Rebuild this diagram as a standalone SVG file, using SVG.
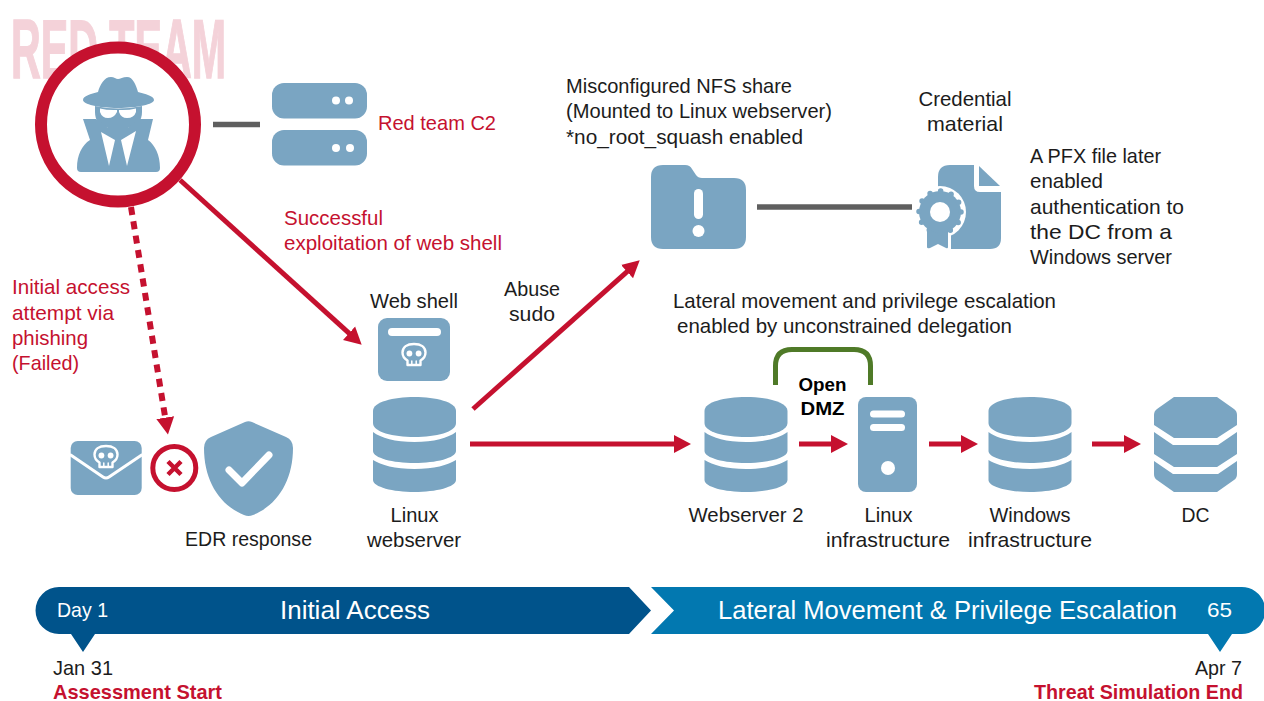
<svg xmlns="http://www.w3.org/2000/svg" width="1264" height="701" viewBox="0 0 1264 701">
<style>
text{font-family:"Liberation Sans",Arial,sans-serif;font-size:21px;fill:#1c1c1c}
.r{fill:#c5112f}
.m{text-anchor:middle}
.e{text-anchor:end}
.w{fill:#fff}
.b{font-weight:bold}
.i{fill:#7aa5c2}
.wl{fill:none;stroke:#fff;stroke-linecap:round;stroke-linejoin:round}
.a{fill:none;stroke:#c5112f;stroke-width:5}
.g{fill:none;stroke:#5f5f5f;stroke-width:5.5}
</style>
<defs>
<marker id="ah" markerUnits="userSpaceOnUse" markerWidth="18" markerHeight="20" viewBox="0 0 18 20" refX="8" refY="10" orient="auto"><path d="M0,1 L17,10 L0,19 Z" fill="#c5112f"/></marker>
<g id="db" class="i">
<path d="M0,14 C0,5 20,0 41.5,0 C63,0 83,5 83,14 V26 C83,35 63,40 41.5,40 C20,40 0,35 0,26 Z"/>
<path d="M0,35 C8,41 22,45 41.5,45 C61,45 75,41 83,35 V54 C83,61 63,66 41.5,66 C20,66 0,61 0,54 Z"/>
<path d="M0,63 C8,68 22,72 41.5,72 C61,72 75,68 83,63 V83 C83,90 63,95 41.5,95 C20,95 0,90 0,83 Z"/>
</g>
<g id="skull">
<path class="wl" stroke-width="2.4" d="M-6.5,10 V5.5 C-10,3.5 -11.5,0 -11.5,-2.5 C-11.5,-8 -7,-11 0,-11 C7,-11 11.5,-8 11.5,-2.5 C11.5,0 10,3.5 6.5,5.5 V10 Z"/>
<circle cx="-4.6" cy="-1.5" r="2.9" fill="#fff"/><circle cx="4.6" cy="-1.5" r="2.9" fill="#fff"/>
<path class="wl" stroke-width="1.5" d="M-2.2,6 V9.5 M2.2,6 V9.5"/>
</g>
</defs>
<rect width="1264" height="701" fill="#fff"/>
<text id="watermark" x="11" y="77.500" textLength="215" lengthAdjust="spacingAndGlyphs" class="b" style="font-size:84px;fill:#f4d2d9;stroke:#f4d2d9;stroke-width:1.500">RED TEAM</text>

<g id="connectors">
<path class="g" d="M213,124.500 H260"/>
<path class="g" d="M757,207 H912"/>
<path class="a" d="M180,180 L355,338.600" marker-end="url(#ah)"/>
<path class="a" style="stroke-width:6;stroke-dasharray:8 6.500" d="M131,207 L166.500,425.500" marker-end="url(#ah)"/>
<path class="a" d="M473,409 L633,266.300" marker-end="url(#ah)"/>
<path class="a" d="M470,444 H682" marker-end="url(#ah)"/>
<path class="a" d="M799,444 H839" marker-end="url(#ah)"/>
<path class="a" d="M929,444 H969" marker-end="url(#ah)"/>
<path class="a" d="M1092,444 H1132" marker-end="url(#ah)"/>
<path fill="none" stroke="#4f7a28" stroke-width="5" d="M775.500,385 V366 Q775.500,349.500 792,349.500 H854 Q870.500,349.500 870.500,366 V385"/>
</g>

<g id="red-team-actor">
<circle cx="118" cy="124.500" r="77" fill="#fff" stroke="#c5112f" stroke-width="12"/>
<path class="i" d="M83,100 C83,96 91,94 98,92 C100,85 104,77 111,77 C114,77 116,79 118,79 C120,79 123,77 127,77 C133,77 136,85 138,92 C145,94 154,96 154,100 C154,104 138,108 118,108 C98,108 83,104 83,100 Z"/>
<path class="i" d="M95,106 Q118,111 142,106 V112 Q142,125 128,128 H108 Q95,125 95,112 Z"/>
<path class="i" d="M83,119 H96 L108,128 H128 L140,119 H153 L148,140 C155,145 160,155 160,168 Q160,172 156,172 H81 Q77,172 77,168 C77,155 82,145 90,140 Z"/>
<path d="M100,108.500 Q108,110.500 117,110 V112 Q114,118 108,118 Q102,118 100,112 Z M119,110 Q128,110.500 136,108.500 V112 Q134,118 127,118 Q121,118 119,112 Z" fill="#fff"/>
<path d="M101,132 L115,140 L109,166 Z M136,131 L121,140 L127,166 Z" fill="#fff"/>
</g>

<g id="red-team-c2">
<rect class="i" x="272" y="83" width="95" height="35.500" rx="12"/>
<rect class="i" x="272" y="130" width="95" height="35.500" rx="12"/>
<g fill="#fff"><circle cx="336" cy="100.500" r="4"/><circle cx="349" cy="100.500" r="4"/><circle cx="336" cy="148" r="4"/><circle cx="350" cy="148" r="4"/></g>
<text class="r" x="378" y="130" textLength="118" lengthAdjust="spacingAndGlyphs">Red team C2</text>
</g>

<text class="r" x="284" y="225" textLength="99" lengthAdjust="spacingAndGlyphs">Successful</text>
<text class="r" x="284" y="250" textLength="218" lengthAdjust="spacingAndGlyphs">exploitation of web shell</text>
<text class="r" x="12" y="294" textLength="118" lengthAdjust="spacingAndGlyphs">Initial access</text>
<text class="r" x="12" y="320" textLength="102" lengthAdjust="spacingAndGlyphs">attempt via</text>
<text class="r" x="12" y="345" textLength="76" lengthAdjust="spacingAndGlyphs">phishing</text>
<text class="r" x="12" y="370" textLength="67" lengthAdjust="spacingAndGlyphs">(Failed)</text>

<g id="phishing-mail">
<rect class="i" x="70.700" y="441" width="71" height="54" rx="7"/>
<path class="wl" stroke-width="3" d="M70.700,455 L103,477 Q106,479 109,477 L141.700,455"/>
<use href="#skull" x="106" y="457"/>
</g>
<g id="blocked">
<circle cx="174.300" cy="468" r="21.500" fill="#fff" stroke="#c5112f" stroke-width="5"/>
<path d="M168,461.500 L181,474.500 M181,461.500 L168,474.500" fill="none" stroke="#c5112f" stroke-width="4.500"/>
</g>
<g id="edr-response">
<path class="i" d="M245,422 Q248.500,420.500 252,422 L286,437 Q293,440 293,448 C293,480 278,505 253,515 Q248.500,517 244,515 C219,505 204,480 204,448 Q204,440 211,437 Z"/>
<path class="wl" stroke-width="7" d="M229,470 L242,483 L269,455"/>
<text x="185" y="546" textLength="127" lengthAdjust="spacingAndGlyphs">EDR response</text>
</g>

<g id="web-shell">
<text class="m" x="414" y="308" textLength="88" lengthAdjust="spacingAndGlyphs">Web shell</text>
<rect class="i" x="378" y="318" width="72" height="63" rx="9"/>
<rect x="388" y="328" width="53" height="8" rx="4" fill="#fff"/>
<use href="#skull" x="414" y="355"/>
</g>
<g id="linux-webserver">
<use href="#db" x="373" y="397"/>
<text class="m" x="414.500" y="522" textLength="48" lengthAdjust="spacingAndGlyphs">Linux</text>
<text class="m" x="414" y="547" textLength="94" lengthAdjust="spacingAndGlyphs">webserver</text>
</g>
<text class="m" x="532" y="296" textLength="56" lengthAdjust="spacingAndGlyphs">Abuse</text>
<text class="m" x="532" y="321" textLength="46" lengthAdjust="spacingAndGlyphs">sudo</text>

<g id="nfs-share">
<text x="566" y="93" textLength="226" lengthAdjust="spacingAndGlyphs">Misconfigured NFS share</text>
<text x="566" y="118" textLength="266" lengthAdjust="spacingAndGlyphs">(Mounted to Linux webserver)</text>
<text x="566" y="144" textLength="237" lengthAdjust="spacingAndGlyphs">*no_root_squash enabled</text>
<path class="i" d="M651,177 Q651,165 663,165 H685 Q690,165 692,169 L696,175 Q698,178 702,178 H734 Q746,178 746,190 V237 Q746,249 734,249 H663 Q651,249 651,237 Z"/>
<rect x="694" y="189" width="9" height="30" rx="4.500" fill="#fff"/>
<circle cx="698.500" cy="231" r="6" fill="#fff"/>
</g>
<g id="credential-material">
<text class="m" x="965" y="106" textLength="93" lengthAdjust="spacingAndGlyphs">Credential</text>
<text class="m" x="965" y="131" textLength="76" lengthAdjust="spacingAndGlyphs">material</text>
<path class="i" d="M938,177 Q938,165 950,165 H974 V186 Q974,192 980,192 H1001 V238 Q1001,249 990,249 H949 Q938,249 938,238 Z"/>
<path class="i" d="M979,166 L1000,186 H979 Z"/>
<circle cx="940" cy="212" r="26" fill="#fff"/>
<path d="M921,228 H951 V251 H921 Z" fill="#fff"/>
<path class="i" d="M927,228 H948 V247 Q948,249 946,248 L938,244 L930,248 Q927,249 927,247 Z"/>
<circle class="i" cx="940" cy="212" r="21"/>
<circle cx="940" cy="212" r="21" fill="none" stroke="#7aa5c2" stroke-width="5.500" stroke-linecap="round" stroke-dasharray="0 11"/>
<circle cx="940" cy="212" r="10" fill="#fff"/>
</g>
<text x="1030" y="163" textLength="131" lengthAdjust="spacingAndGlyphs">A PFX file later</text>
<text x="1030" y="188" textLength="73" lengthAdjust="spacingAndGlyphs">enabled</text>
<text x="1030" y="214" textLength="154" lengthAdjust="spacingAndGlyphs">authentication to</text>
<text x="1030" y="239" textLength="142" lengthAdjust="spacingAndGlyphs">the DC from a</text>
<text x="1030" y="264" textLength="142" lengthAdjust="spacingAndGlyphs">Windows server</text>
<text x="673" y="308" textLength="383" lengthAdjust="spacingAndGlyphs">Lateral movement and privilege escalation</text>
<text x="677" y="333" textLength="335" lengthAdjust="spacingAndGlyphs">enabled by unconstrained delegation</text>
<g id="open-dmz">
<text class="m b" x="822.500" y="391" textLength="48" lengthAdjust="spacingAndGlyphs" style="font-size:19px;fill:#000">Open</text>
<text class="m b" x="822.500" y="415" textLength="44" lengthAdjust="spacingAndGlyphs" style="font-size:19px;fill:#000">DMZ</text>
</g>
<g id="webserver-2">
<use href="#db" x="704.500" y="397"/>
<text class="m" x="746" y="522" textLength="115" lengthAdjust="spacingAndGlyphs">Webserver 2</text>
</g>
<g id="linux-infrastructure">
<rect class="i" x="858" y="397" width="59" height="95" rx="8"/>
<rect x="870" y="410.500" width="35" height="7" rx="3.500" fill="#fff"/>
<rect x="870" y="424" width="35" height="7" rx="3.500" fill="#fff"/>
<circle cx="888" cy="468" r="7" fill="#fff"/>
<text class="m" x="888.500" y="522" textLength="48" lengthAdjust="spacingAndGlyphs">Linux</text>
<text class="m" x="888" y="547" textLength="124" lengthAdjust="spacingAndGlyphs">infrastructure</text>
</g>
<g id="windows-infrastructure">
<use href="#db" x="988.500" y="397"/>
<text class="m" x="1030" y="522" textLength="81" lengthAdjust="spacingAndGlyphs">Windows</text>
<text class="m" x="1030" y="547" textLength="124" lengthAdjust="spacingAndGlyphs">infrastructure</text>
</g>
<g id="dc">
<path class="i" d="M1174,397 H1217 L1234,409 Q1237,411 1237,415 V425 L1217,438 H1174 L1154,425 V415 Q1154,411 1157,409 Z"/>
<path class="i" d="M1154,432 L1173,445 H1218 L1237,432 V454 L1217,467 H1174 L1154,454 Z"/>
<path class="i" d="M1154,461 L1173,474 H1218 L1237,461 V474 Q1237,478 1234,480 L1217,492 H1174 L1157,480 Q1154,478 1154,474 Z"/>
<text class="m" x="1195.500" y="522" textLength="28" lengthAdjust="spacingAndGlyphs">DC</text>
</g>

<g id="phase-initial-access">
<path fill="#00538b" d="M59,587 H629 L651,610.500 L629,634 H95 L83,652 L71,634 H59 A23.500,23.500 0 0 1 59,587 Z"/>
<text class="w" x="57" y="617" textLength="51" lengthAdjust="spacingAndGlyphs">Day 1</text>
<text class="w m" x="355" y="619" textLength="150" lengthAdjust="spacingAndGlyphs" style="font-size:25px">Initial Access</text>
</g>
<g id="phase-lateral-movement">
<path fill="#0278b0" d="M651,587 H1241 A23.500,23.500 0 0 1 1264,603 V618 A23.500,23.500 0 0 1 1241,634 H1232 L1220,652 L1208,634 H651 L674,610.500 Z"/>
<text class="w" x="718" y="619" textLength="459" lengthAdjust="spacingAndGlyphs" style="font-size:25px">Lateral Movement &amp; Privilege Escalation</text>
<text class="w" x="1207" y="617" textLength="25" lengthAdjust="spacingAndGlyphs">65</text>
</g>
<g id="start">
<text x="53" y="675" textLength="60" lengthAdjust="spacingAndGlyphs">Jan 31</text>
<text class="r b" x="53" y="699" textLength="169" lengthAdjust="spacingAndGlyphs">Assessment Start</text>
</g>
<g id="end">
<text x="1195" y="675" textLength="47" lengthAdjust="spacingAndGlyphs">Apr 7</text>
<text class="r b" x="1034" y="699" textLength="209" lengthAdjust="spacingAndGlyphs">Threat Simulation End</text>
</g>
</svg>
